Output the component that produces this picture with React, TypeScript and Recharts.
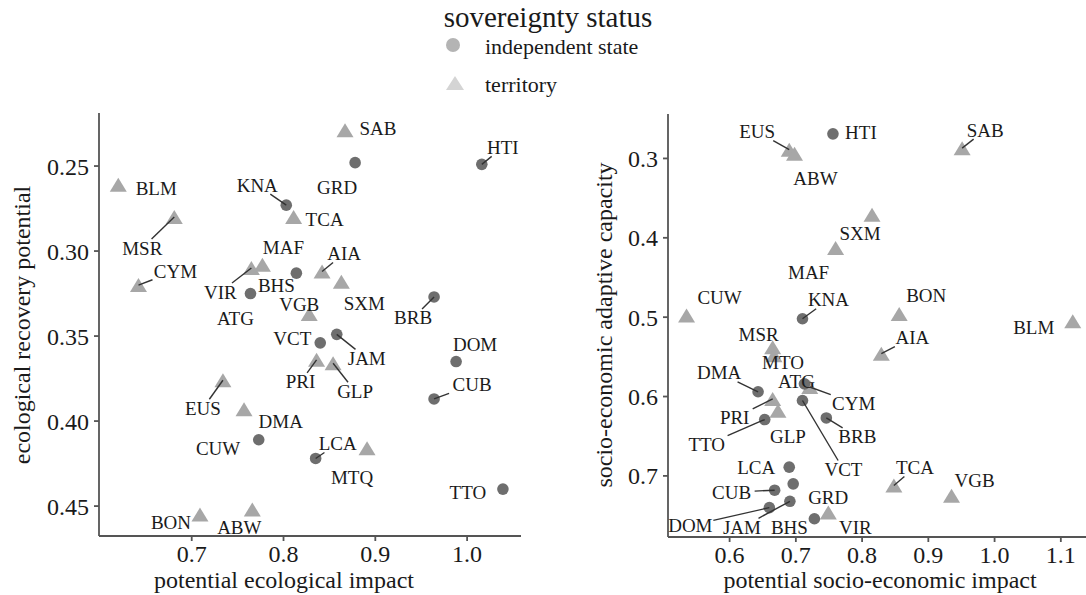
import React from 'react';
import { ScatterChart, Scatter, XAxis, YAxis } from 'recharts';

// sovereignty: everything not in this list is a territory
const independentStates = ['ATG', 'BHS', 'BRB', 'CUB', 'DMA', 'DOM', 'GRD', 'HTI', 'JAM', 'KNA', 'LCA', 'VCT', 'TTO'];

// left panel: ecological
const ecoCodes = ['BLM', 'MSR', 'CYM', 'VIR', 'MAF', 'ATG', 'BHS', 'KNA', 'TCA', 'SAB', 'GRD', 'HTI', 'AIA', 'SXM', 'VGB',
  'BRB', 'JAM', 'VCT', 'PRI', 'GLP', 'DOM', 'CUB', 'LCA', 'MTQ', 'TTO', 'DMA', 'CUW', 'EUS', 'BON', 'ABW'];
const ecoImpact = [0.620, 0.681, 0.642, 0.765, 0.777, 0.764, 0.814, 0.803, 0.811, 0.867, 0.878, 1.016, 0.842, 0.863, 0.828,
  0.964, 0.858, 0.840, 0.836, 0.854, 0.988, 0.964, 0.835, 0.891, 1.039, 0.773, 0.757, 0.734, 0.709, 0.766];
const ecoRecovery = [0.261, 0.280, 0.320, 0.310, 0.308, 0.325, 0.313, 0.273, 0.280, 0.229, 0.248, 0.249, 0.312, 0.318, 0.337,
  0.327, 0.349, 0.354, 0.364, 0.366, 0.365, 0.387, 0.422, 0.416, 0.440, 0.411, 0.393, 0.376, 0.455, 0.452];
const ecoXTicks = [0.7, 0.8, 0.9, 1.0];
const ecoYTicks = [0.25, 0.3, 0.35, 0.4, 0.45];

// right panel: socio-economic
const socCodes = ['EUS', 'ABW', 'HTI', 'SAB', 'SXM', 'MAF', 'CUW', 'KNA', 'BON', 'BLM', 'AIA', 'MSR', 'MTO', 'DMA', 'ATG',
  'CYM', 'PRI', 'BRB', 'TTO', 'GLP', 'VCT', 'LCA', 'CUB', 'GRD', 'DOM', 'JAM', 'BHS', 'TCA', 'VGB', 'VIR'];
const socImpact = [0.690, 0.698, 0.756, 0.951, 0.815, 0.760, 0.535, 0.710, 0.856, 1.118, 0.829, 0.665, 0.667, 0.643, 0.713,
  0.721, 0.665, 0.746, 0.653, 0.673, 0.710, 0.690, 0.668, 0.696, 0.660, 0.691, 0.728, 0.848, 0.935, 0.749];
const socCapacity = [0.289, 0.294, 0.269, 0.287, 0.371, 0.413, 0.498, 0.502, 0.496, 0.505, 0.546, 0.538, 0.548, 0.594, 0.584,
  0.588, 0.603, 0.627, 0.629, 0.618, 0.605, 0.689, 0.718, 0.710, 0.740, 0.732, 0.754, 0.712, 0.725, 0.746];
const socXTicks = [0.6, 0.7, 0.8, 0.9, 1.0, 1.1];
const socYTicks = [0.3, 0.4, 0.5, 0.6, 0.7];

// label placement (pixel offset of label centre from its point, and whether a segment is drawn)
const ecoLabelPos: Record<string, [number, number, number]> = {
  BLM: [38, 4, 0], MSR: [-32, 31, 1], CYM: [37, -14, 1], VIR: [-31, 24, 1], MAF: [21, -17, 0], ATG: [-15, 25, 0],
  BHS: [-20, 12, 0], KNA: [-29, -20, 1], TCA: [31, 2, 0], SAB: [33, -2, 0], GRD: [-18, 25, 0], HTI: [21, -17, 1],
  AIA: [22, -18, 1], SXM: [23, 22, 0], VGB: [-10, -9, 0], BRB: [-21, 21, 1], JAM: [30, 24, 1], VCT: [-28, -4, 0],
  PRI: [-16, 22, 1], GLP: [22, 28, 1], DOM: [19, -17, 0], CUB: [38, -14, 1], LCA: [22, -15, 1], MTQ: [-15, 29, 0],
  TTO: [-35, 3, 0], DMA: [22, -18, 0], CUW: [-26, 39, 0], EUS: [-20, 28, 1], BON: [-29, 8, 0], ABW: [-13, 18, 0],
};
const socLabelPos: Record<string, [number, number, number]> = {
  EUS: [-32, -18, 1], ABW: [21, 25, 0], HTI: [28, -1, 0], SAB: [23, -18, 1], SXM: [-12, 19, 0], MAF: [-27, 24, 0],
  CUW: [33, -18, 0], KNA: [26, -19, 1], BON: [27, -18, 0], BLM: [-39, 6, 0], AIA: [31, -16, 1], MSR: [-14, -13, 0],
  MTO: [9, 7, 0], DMA: [-39, -19, 1], ATG: [-8, -2, 0], CYM: [44, 16, 1], PRI: [-38, 19, 1], BRB: [31, 19, 1],
  TTO: [-58, 25, 1], GLP: [10, 26, 0], VCT: [41, 69, 1], LCA: [-33, 0, 0], CUB: [-43, 2, 1], GRD: [35, 14, 0],
  DOM: [-79, 18, 1], JAM: [-48, 26, 1], BHS: [-25, 9, 0], TCA: [21, -18, 1], VGB: [23, -15, 0], VIR: [27, 15, 0],
};

const FONT = '"Liberation Serif", "DejaVu Serif", serif';
const STATE_FILL = '#6e6e6e';
const TERR_FILL = '#a7a7a7';
const AXIS = '#555555';

type Row = { code: string; x: number; y: number; state: boolean };

const buildRows = (codes: string[], xs: number[], ys: number[]): Row[] =>
  codes.map((code, i) => ({ code, x: xs[i], y: ys[i], state: independentStates.includes(code) }));

const ecoRows = buildRows(ecoCodes, ecoImpact, ecoRecovery);
const socRows = buildRows(socCodes, socImpact, socCapacity);

const Dot = (p: any) => <circle cx={p.cx} cy={p.cy} r={5.8} fill={STATE_FILL} />;

const Tri = (p: any) => {
  const { cx, cy } = p;
  return <path d={`M${cx},${cy - 7} L${cx + 8.5},${cy + 7} L${cx - 8.5},${cy + 7} Z`} fill={TERR_FILL} />;
};

const makeLabel = (pos: Record<string, [number, number, number]>) => (p: any) => {
  const { cx, cy, payload } = p;
  const [dx, dy, seg] = pos[payload.code] || [0, -16, 0];
  const lx = cx + dx;
  const ly = cy + dy;
  let line = null;
  if (seg) {
    const hw = payload.code.length * 7 + 2;
    const hh = 9;
    const s = Math.min(dx !== 0 ? hw / Math.abs(dx) : 99, dy !== 0 ? hh / Math.abs(dy) : 99);
    if (s < 1) {
      line = <line x1={cx} y1={cy} x2={lx - s * dx} y2={ly - s * dy} stroke="#333" strokeWidth={1.4} />;
    }
  }
  return (
    <g>
      {line}
      <text x={lx} y={ly} textAnchor="middle" dominantBaseline="central" fontSize={19} fill="#1a1a1a">
        {payload.code}
      </text>
    </g>
  );
};

const tickStyle = { fontSize: 24, fill: '#1a1a1a' };

interface PanelProps {
  rows: Row[];
  labels: Record<string, [number, number, number]>;
  width: number;
  yAxisWidth: number;
  top: number;
  xAxisHeight: number;
  right: number;
  xDomain: [number, number];
  yDomain: [number, number];
  xTicks: number[];
  yTicks: number[];
  yDigits: number;
}

const Panel: React.FC<PanelProps> = (p) => (
  <ScatterChart width={p.width} height={595} margin={{ top: p.top, right: p.right, bottom: 0, left: 0 }}>
    <XAxis
      type="number"
      dataKey="x"
      domain={p.xDomain}
      allowDataOverflow
      ticks={p.xTicks}
      tickFormatter={(v: number) => v.toFixed(1)}
      height={p.xAxisHeight}
      tick={tickStyle}
      tickSize={5}
      tickMargin={4}
      axisLine={{ stroke: AXIS, strokeWidth: 1.8 }}
      tickLine={{ stroke: AXIS, strokeWidth: 1.8 }}
    />
    <YAxis
      type="number"
      dataKey="y"
      reversed
      domain={p.yDomain}
      allowDataOverflow
      ticks={p.yTicks}
      tickFormatter={(v: number) => v.toFixed(p.yDigits)}
      width={p.yAxisWidth}
      tick={tickStyle}
      tickSize={5}
      tickMargin={5}
      axisLine={{ stroke: AXIS, strokeWidth: 1.8 }}
      tickLine={{ stroke: AXIS, strokeWidth: 1.8 }}
    />
    <Scatter data={p.rows.filter((r) => !r.state)} shape={Tri} isAnimationActive={false} />
    <Scatter data={p.rows.filter((r) => r.state)} shape={Dot} isAnimationActive={false} />
    <Scatter data={p.rows} shape={makeLabel(p.labels)} isAnimationActive={false} />
  </ScatterChart>
);

export default function App() {
  return (
    <div style={{ position: 'absolute', left: 0, top: 0, width: 1086, height: 595, background: '#fff', fontFamily: FONT }}>
      <div style={{ position: 'absolute', left: 0, top: 0 }}>
        <Panel
          rows={ecoRows}
          labels={ecoLabelPos}
          width={540}
          yAxisWidth={99}
          top={113}
          xAxisHeight={59}
          right={19}
          xDomain={[0.599, 1.0587]}
          yDomain={[0.2188, 0.4676]}
          xTicks={ecoXTicks}
          yTicks={ecoYTicks}
          yDigits={2}
        />
      </div>
      <div style={{ position: 'absolute', left: 540, top: 0 }}>
        <Panel
          rows={socRows}
          labels={socLabelPos}
          width={546}
          yAxisWidth={128}
          top={114}
          xAxisHeight={58}
          right={0}
          xDomain={[0.507, 1.138]}
          yDomain={[0.244, 0.777]}
          xTicks={socXTicks}
          yTicks={socYTicks}
          yDigits={1}
        />
      </div>
      <svg width={1086} height={595} style={{ position: 'absolute', left: 0, top: 0, pointerEvents: 'none' }}>
        <text x={548} y={27} textAnchor="middle" fontSize={29} fill="#1a1a1a">sovereignty status</text>
        <circle cx={453} cy={45} r={7} fill="#b4b4b4" />
        <text x={485} y={46} dominantBaseline="central" fontSize={22} fill="#1a1a1a">independent state</text>
        <path d="M455,76 L464,90 L446,90 Z" fill="#d4d4d4" />
        <text x={485} y={84} dominantBaseline="central" fontSize={22} fill="#1a1a1a">territory</text>
        <text x={284} y={588} textAnchor="middle" fontSize={24} fill="#1a1a1a">potential ecological impact</text>
        <text x={880} y={588} textAnchor="middle" fontSize={24} fill="#1a1a1a">potential socio-economic impact</text>
        <text x={30} y={325} textAnchor="middle" fontSize={24} fill="#1a1a1a" transform="rotate(-90 30 325)">
          ecological recovery potential
        </text>
        <text x={612} y={325} textAnchor="middle" fontSize={24} fill="#1a1a1a" transform="rotate(-90 612 325)">
          socio-economic adaptive capacity
        </text>
      </svg>
    </div>
  );
}
